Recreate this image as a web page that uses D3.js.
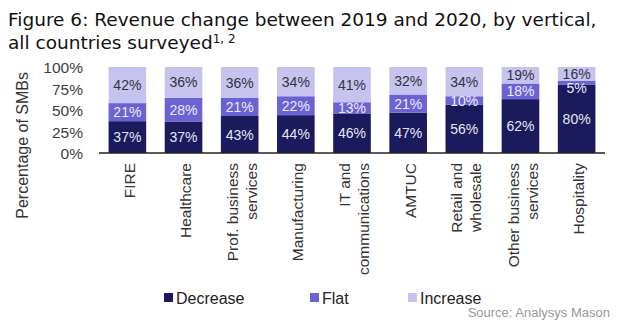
<!DOCTYPE html>
<html>
<head>
<meta charset="utf-8">
<script src="https://cdn.jsdelivr.net/npm/d3@7"></script>
<style>
  html, body { margin: 0; padding: 0; background: #fff; }
  svg { display: block; font-family: "Liberation Sans", Arial, sans-serif; }
</style>
</head>
<body>
<div id="chart"></div>
<script>
const verticals = ["FIRE", "Healthcare", "Prof. business services", "Manufacturing",
  "IT and communications", "AMTUC", "Retail and wholesale", "Other business services", "Hospitality"]
const verticalLines = [["FIRE"], ["Healthcare"], ["Prof. business", "services"], ["Manufacturing"],
  ["IT and", "communications"], ["AMTUC"], ["Retail and", "wholesale"], ["Other business", "services"], ["Hospitality"]]
const decrease = [37, 37, 43, 44, 46, 47, 56, 62, 80]
const flat = [21, 28, 21, 22, 13, 21, 10, 18, 5]
const increase = [42, 36, 36, 34, 41, 32, 34, 19, 16]
const seriesNames = ["Decrease", "Flat", "Increase"]
const yTicks = [0, 0.25, 0.5, 0.75, 1]

const colors = { Decrease: "#1b1a5c", Flat: "#6b62d3", Increase: "#c7c3ef" }
const labelColors = { Decrease: "#e6e6f2", Flat: "#ececf8", Increase: "#333340" }

const width = 626
const height = 331

const rows = verticals.map((v, i) => ({
  vertical: v,
  Decrease: decrease[i],
  Flat: flat[i],
  Increase: increase[i]
}))

const svg = d3.select("#chart")
  .append("svg")
  .attr("width", width)
  .attr("height", height)
  .attr("viewBox", [0, 0, width, height])

// Title
const title = svg.append("g")
  .attr("fill", "#111")
  .attr("font-family", "DejaVu Sans, sans-serif")
  .attr("font-size", "18.5px")
title.append("text")
  .attr("x", 8).attr("y", 26)
  .text("Figure 6: Revenue change between 2019 and 2020, by vertical,")
const t2 = title.append("text")
  .attr("x", 8).attr("y", 49)
  .text("all countries surveyed")
t2.append("tspan")
  .attr("font-size", "12px")
  .attr("dy", "-6")
  .text("1, 2")

const x = d3.scaleBand()
  .domain(verticals)
  .range([99, 605])
  .paddingInner(0.33)
  .paddingOuter(0.17)

const y = d3.scaleLinear()
  .domain([0, 1])
  .range([153, 67])

const stack = d3.stack()
  .keys(seriesNames)
  .offset(d3.stackOffsetExpand)
const series = stack(rows)

// Stacked bars
const layers = svg.append("g")
  .selectAll("g")
  .data(series)
  .join("g")
  .attr("fill", d => colors[d.key])

layers.selectAll("rect")
  .data(d => d)
  .join("rect")
  .attr("x", d => x(d.data.vertical))
  .attr("y", d => y(d[1]))
  .attr("width", x.bandwidth())
  .attr("height", d => y(d[0]) - y(d[1]))

// Value labels inside each segment; very thin segments push their label down a bit
const labels = svg.append("g")
  .attr("font-size", "14px")
  .attr("text-anchor", "middle")
  .selectAll("g")
  .data(series)
  .join("g")
  .attr("fill", d => labelColors[d.key])

labels.selectAll("text")
  .data(d => d.map(s => ({ s, key: d.key })))
  .join("text")
  .attr("x", d => x(d.s.data.vertical) + x.bandwidth() / 2)
  .attr("y", d => {
    const mid = (y(d.s[0]) + y(d.s[1])) / 2
    const h = y(d.s[0]) - y(d.s[1])
    return h < 6 ? mid + 5 : mid
  })
  .attr("dy", "0.36em")
  .text(d => d.s.data[d.key] + "%")

// Y axis tick labels
const yAxis = svg.append("g")
  .attr("transform", "translate(99,0)")
  .call(d3.axisLeft(y).tickValues(yTicks).tickFormat(d3.format(".0%")).tickSize(0).tickPadding(16))
yAxis.select(".domain").remove()
yAxis.selectAll("text")
  .attr("font-family", "Liberation Sans, Arial, sans-serif")
  .attr("font-size", "15.5px")
  .attr("fill", "#404040")
  .attr("dy", "0.36em")

// Baseline
svg.append("line")
  .attr("x1", 99).attr("x2", 605)
  .attr("y1", y(0)).attr("y2", y(0))
  .attr("stroke", "#222")
  .attr("stroke-width", 1.5)

// Y axis title
svg.append("text")
  .attr("transform", "translate(22,72) rotate(-90)")
  .attr("text-anchor", "end")
  .attr("dy", "0.36em")
  .attr("font-size", "16px")
  .attr("fill", "#333")
  .text("Percentage of SMBs")

// Category labels, rotated
const cats = svg.append("g")
  .attr("font-size", "15.5px")
  .attr("fill", "#333")
  .selectAll("g")
  .data(verticals)
  .join("g")
  .attr("transform", d => `translate(${x(d) + x.bandwidth() / 2 + 2},163)`)

cats.each(function(d, i) {
  const lines = verticalLines[i]
  d3.select(this).selectAll("text")
    .data(lines)
    .join("text")
    .attr("transform", (l, j) => `translate(${(j - (lines.length - 1) / 2) * 19},0) rotate(-90)`)
    .attr("text-anchor", "end")
    .attr("dy", "0.36em")
    .text(l => l)
})

// Legend
const legendX = [164, 310, 408]
const legend = svg.append("g")
  .selectAll("g")
  .data(seriesNames)
  .join("g")
  .attr("transform", (d, i) => `translate(${legendX[i]},298)`)

legend.append("rect")
  .attr("x", 0).attr("y", -5)
  .attr("width", 9).attr("height", 9)
  .attr("fill", d => colors[d])

legend.append("text")
  .attr("x", 12)
  .attr("dy", "0.36em")
  .attr("font-size", "16px")
  .attr("fill", "#222")
  .text(d => d)

// Source note
svg.append("text")
  .attr("x", 610).attr("y", 312)
  .attr("text-anchor", "end")
  .attr("dy", "0.36em")
  .attr("font-size", "13px")
  .attr("fill", "#999")
  .text("Source: Analysys Mason")
</script>
</body>
</html>
